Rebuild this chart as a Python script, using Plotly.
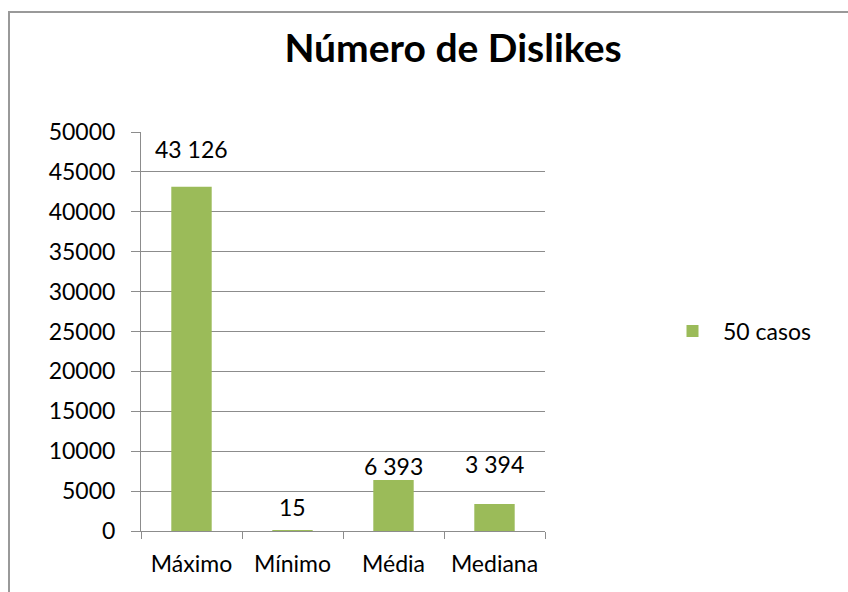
import plotly.graph_objects as go

categories = ["Máximo", "Mínimo", "Média", "Mediana"]
values = [43126, 15, 6393, 3394]
series_name = "50 casos"
y_ticks = [0, 5000, 10000, 15000, 20000, 25000, 30000, 35000, 40000, 45000, 50000]
label_offsets = [38, 24, 14, 40]

FONT = "Lato, 'Open Sans', sans-serif"
GREEN = "#9BBB59"
GRID = "#8c8c8c"
FS = 23

W, H = 848, 592
L, R, T, B = 141, 303, 132, 61
pw = W - L - R
ph = H - T - B

fig = go.Figure()
fig.add_trace(go.Bar(
    x=categories, y=values, name=series_name,
    marker=dict(color=GREEN, line=dict(width=0)),
    showlegend=True,
))

for c, v, off in zip(categories, values, label_offsets):
    fig.add_annotation(
        x=c, y=v, xref="x", yref="y",
        text=f"{v:,}".replace(",", " "),
        showarrow=False, yshift=off, yanchor="middle",
        font=dict(family=FONT, size=FS, color="#000"),
    )

# chart border
fig.add_shape(
    type="rect", xref="paper", yref="paper",
    x0=(9 - L) / pw, x1=(W + 20 - L) / pw,
    y0=(H - B - (H + 20)) / ph, y1=(H - B - 12) / ph,
    line=dict(color="#999999", width=2), fillcolor="rgba(0,0,0,0)",
    layer="below",
)

fig.update_layout(
    width=W, height=H,
    margin=dict(l=L, r=R, t=T, b=B, pad=0),
    paper_bgcolor="white", plot_bgcolor="white",
    bargap=0.6,
    font=dict(family=FONT, size=FS, color="#000"),
    title=dict(
        text="<b>Número de Dislikes</b>",
        x=453 / W, xanchor="center",
        y=1 - 48 / H, yanchor="middle",
        font=dict(family=FONT, size=39, color="#000"),
    ),
    legend=dict(
        x=(662 - L) / pw, xanchor="left",
        y=(H - B - 331) / ph, yanchor="middle",
        itemwidth=51,
        font=dict(family=FONT, size=FS, color="#000"),
        bgcolor="rgba(0,0,0,0)",
    ),
    xaxis=dict(
        type="category",
        showline=True, linecolor=GRID, linewidth=1,
        ticks="outside", ticklen=7, tickcolor=GRID, tickwidth=1,
        tickson="boundaries",
        showgrid=False,
        tickfont=dict(family=FONT, size=FS, color="#000"),
        ticklabelstandoff=12,
    ),
    yaxis=dict(
        range=[0, 50000],
        tickvals=y_ticks, ticktext=[str(t) for t in y_ticks],
        showline=True, linecolor=GRID, linewidth=1,
        ticks="outside", ticklen=9, tickcolor=GRID, tickwidth=1,
        showgrid=True, gridcolor=GRID, gridwidth=1,
        zeroline=False,
        tickfont=dict(family=FONT, size=FS, color="#000"),
        ticklabelstandoff=11,
    ),
)

fig.write_html("out.html")
